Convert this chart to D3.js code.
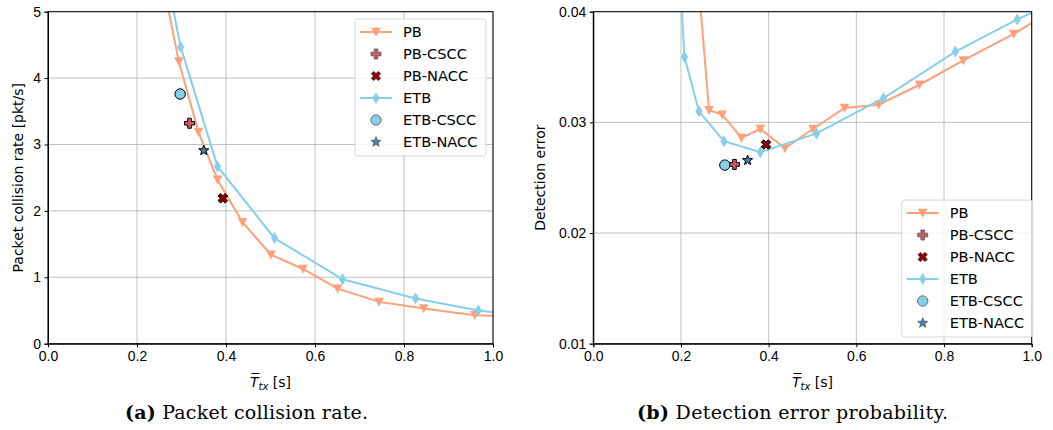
<!DOCTYPE html>
<html>
<head>
<meta charset="utf-8">
<script src="https://cdn.jsdelivr.net/npm/d3@7"></script>
<style>
  body { margin: 0; background: #fff; }
  svg { display: block; font-family: 'DejaVu Sans', sans-serif; }
  .tick text { font-size: 14px; fill: #000; }
  .grid line { stroke: #b0b0b0; stroke-width: 0.8; }
</style>
</head>
<body>
<svg id="chart" width="1053" height="430"></svg>
<script>
// x values shared by both panels
const pbX = [0.235, 0.264, 0.294, 0.338, 0.381, 0.437, 0.501, 0.573, 0.651, 0.744, 0.844, 0.959, 1.08]
const etbX = [0.19, 0.208, 0.241, 0.298, 0.381, 0.509, 0.662, 0.826, 0.967, 1.1]

// (a) packet collision rate [pkt/s]
const pbRate = [7.0, 5.25, 4.25, 3.19, 2.47, 1.83, 1.34, 1.125, 0.83, 0.63, 0.53, 0.43, 0.40]
const etbRate = [9.5, 8.0, 6.4, 4.47, 2.67, 1.59, 0.97, 0.68, 0.50, 0.39]
const rateSingles = [
  { name: 'PB-CSCC', x: 0.318, y: 3.32 },
  { name: 'PB-NACC', x: 0.393, y: 2.19 },
  { name: 'ETB-CSCC', x: 0.297, y: 3.76 },
  { name: 'ETB-NACC', x: 0.350, y: 2.91 }
]

// (b) detection error
const pbErr = [0.045, 0.0311, 0.0307, 0.0286, 0.0294, 0.02765, 0.0294, 0.0313, 0.0316, 0.0334, 0.0356, 0.0380, 0.0409]
const etbErr = [0.048, 0.0359, 0.0310, 0.0283, 0.0273, 0.0290, 0.0322, 0.0364, 0.0393, 0.0417]
const errSingles = [
  { name: 'PB-CSCC', x: 0.322, y: 0.0262 },
  { name: 'PB-NACC', x: 0.394, y: 0.0280 },
  { name: 'ETB-CSCC', x: 0.300, y: 0.02614 },
  { name: 'ETB-NACC', x: 0.352, y: 0.02657 }
]

const xTicks = [0, 0.2, 0.4, 0.6, 0.8, 1.0]
const rateTicks = [0, 1, 2, 3, 4, 5]
const errTicks = [0.01, 0.02, 0.03, 0.04]
const legendNames = ['PB', 'PB-CSCC', 'PB-NACC', 'ETB', 'ETB-CSCC', 'ETB-NACC']

const style = {
  'PB': { color: '#fea07a', marker: 'tri' },
  'ETB': { color: '#87ceeb', marker: 'thinDiamond' },
  'PB-CSCC': { color: '#cd5c5c', marker: 'plus' },
  'PB-NACC': { color: '#8b0000', marker: 'cross' },
  'ETB-CSCC': { color: '#87ceeb', marker: 'circle' },
  'ETB-NACC': { color: '#4682b4', marker: 'star' }
}

function markerPath (kind) {
  const p = d3.path()
  if (kind === 'tri') {
    p.moveTo(-4.8, -4.2); p.lineTo(4.8, -4.2); p.lineTo(0, 4.8); p.closePath()
  } else if (kind === 'thinDiamond') {
    p.moveTo(0, -6); p.lineTo(3.6, 0); p.lineTo(0, 6); p.lineTo(-3.6, 0); p.closePath()
  } else if (kind === 'plus' || kind === 'cross') {
    const a = 5, b = 1.8
    const pts = [[-b, -a], [b, -a], [b, -b], [a, -b], [a, b], [b, b], [b, a], [-b, a], [-b, b], [-a, b], [-a, -b], [-b, -b]]
    const r = kind === 'cross' ? Math.PI / 4 : 0
    pts.forEach(([x, y], i) => {
      const px = x * Math.cos(r) - y * Math.sin(r)
      const py = x * Math.sin(r) + y * Math.cos(r)
      if (i === 0) p.moveTo(px, py); else p.lineTo(px, py)
    })
    p.closePath()
  } else if (kind === 'circle') {
    p.arc(0, 0, 5.2, 0, 2 * Math.PI)
  } else if (kind === 'star') {
    for (let i = 0; i < 10; i++) {
      const r = i % 2 ? 2.2 : 5.3
      const ang = -Math.PI / 2 + i * Math.PI / 5
      if (i === 0) p.moveTo(r * Math.cos(ang), r * Math.sin(ang))
      else p.lineTo(r * Math.cos(ang), r * Math.sin(ang))
    }
    p.closePath()
  }
  return p.toString()
}

const svg = d3.select('#chart')

function drawPanel (cfg) {
  const x = d3.scaleLinear().domain([0, 1]).range(cfg.xRange)
  const y = d3.scaleLinear().domain(cfg.yDomain).range([343.7, 11.7])
  const g = svg.append('g')

  g.append('clipPath').attr('id', cfg.id)
    .append('rect')
    .attr('x', cfg.xRange[0]).attr('y', 11.7)
    .attr('width', cfg.xRange[1] - cfg.xRange[0]).attr('height', 332)

  // grid
  g.append('g').attr('class', 'grid')
    .selectAll('line.v').data(xTicks).enter().append('line')
    .attr('x1', d => x(d)).attr('x2', d => x(d)).attr('y1', 11.7).attr('y2', 343.7)
  g.append('g').attr('class', 'grid')
    .selectAll('line.h').data(cfg.yTicks).enter().append('line')
    .attr('y1', d => y(d)).attr('y2', d => y(d)).attr('x1', cfg.xRange[0]).attr('x2', cfg.xRange[1])

  const plot = g.append('g').attr('clip-path', `url(#${cfg.id})`)
  const line = d3.line().x(d => x(d[0])).y(d => y(d[1]))

  cfg.series.forEach(s => {
    const pts = s.xs.map((v, i) => [v, s.ys[i]])
    const st = style[s.name]
    plot.append('path')
      .attr('d', line(pts))
      .attr('fill', 'none')
      .attr('stroke', st.color)
      .attr('stroke-width', 2)
    plot.selectAll(null).data(pts).enter().append('path')
      .attr('d', markerPath(st.marker))
      .attr('transform', d => `translate(${x(d[0])},${y(d[1])})`)
      .attr('fill', st.color)
  })

  plot.selectAll(null).data(cfg.singles).enter().append('path')
    .attr('d', d => markerPath(style[d.name].marker))
    .attr('transform', d => `translate(${x(d.x)},${y(d.y)})`)
    .attr('fill', d => style[d.name].color)
    .attr('stroke', '#000')
    .attr('stroke-width', 1)

  // axes
  const xAxis = d3.axisBottom(x).tickValues(xTicks).tickFormat(d3.format('.1f')).tickSizeOuter(0).tickSize(3.5).tickPadding(3.5)
  const yAxis = d3.axisLeft(y).tickValues(cfg.yTicks).tickFormat(cfg.yFormat).tickSizeOuter(0).tickSize(3.5).tickPadding(3.5)
  g.append('g').attr('transform', 'translate(0,343.7)').call(xAxis)
  g.append('g').attr('transform', `translate(${cfg.xRange[0]},0)`).call(yAxis)
  g.selectAll('.domain').attr('stroke', '#000')
  g.selectAll('.tick line').attr('stroke', '#000')
  g.append('rect')
    .attr('x', cfg.xRange[0]).attr('y', 11.7)
    .attr('width', cfg.xRange[1] - cfg.xRange[0]).attr('height', 332)
    .attr('fill', 'none').attr('stroke', '#000').attr('stroke-width', 1)

  // axis labels
  const cx = (cfg.xRange[0] + cfg.xRange[1]) / 2
  const xl = g.append('text').attr('y', 387).attr('font-size', 14)
  xl.append('tspan').attr('class', 'tsym').attr('font-style', 'italic').text('T')
  xl.append('tspan').attr('font-style', 'italic').attr('font-size', 10).attr('dy', 3).text('tx')
  xl.append('tspan').attr('dy', -3).text(' [s]')
  const w = xl.node().getComputedTextLength()
  xl.attr('x', cx - w / 2)
  const tb = xl.select('.tsym').node().getExtentOfChar(0)
  g.append('line')
    .attr('x1', tb.x + 1.5).attr('x2', tb.x + tb.width + 1)
    .attr('y1', 373.5).attr('y2', 373.5)
    .attr('stroke', '#000').attr('stroke-width', 1)

  g.append('text')
    .attr('transform', `translate(${cfg.yLabelX},177.7) rotate(-90)`)
    .attr('text-anchor', 'middle')
    .attr('font-size', 14)
    .text(cfg.yLabel)

  // legend
  const lg = g.append('g').attr('transform', `translate(${cfg.legend[0]},${cfg.legend[1]})`)
  lg.append('rect')
    .attr('width', 131).attr('height', 137).attr('rx', 3)
    .attr('fill', '#fff').attr('fill-opacity', 0.8)
    .attr('stroke', '#d6d6d6')
  legendNames.forEach((name, i) => {
    const st = style[name]
    const row = lg.append('g').attr('transform', `translate(0,${13 + 22 * i})`)
    if (name === 'PB' || name === 'ETB') {
      row.append('line').attr('x1', 5).attr('x2', 37)
        .attr('stroke', st.color).attr('stroke-width', 2)
      row.append('path').attr('d', markerPath(st.marker))
        .attr('transform', 'translate(21,0)').attr('fill', st.color)
    } else {
      row.append('path').attr('d', markerPath(st.marker))
        .attr('transform', 'translate(21,0)').attr('fill', st.color)
        .attr('stroke', '#555').attr('stroke-width', 0.8)
    }
    row.append('text').attr('x', 48).attr('dy', '0.35em')
      .attr('font-size', 14.6).text(name)
  })

  // caption
  const cap = svg.append('text')
    .attr('x', cfg.capX).attr('y', 419)
    .attr('text-anchor', 'middle')
    .attr('font-family', "'DejaVu Serif', serif")
    .attr('font-size', 19)
    .attr('textLength', cfg.capWidth)
    .attr('lengthAdjust', 'spacing')
  cap.append('tspan').attr('font-weight', 'bold').text(cfg.capTag)
  cap.append('tspan').text(' ' + cfg.capText)
}

drawPanel({
  id: 'clipA',
  xRange: [48, 493],
  yDomain: [0, 5],
  yTicks: rateTicks,
  yFormat: d3.format('d'),
  yLabel: 'Packet collision rate [pkt/s]',
  yLabelX: 23,
  series: [
    { name: 'PB', xs: pbX, ys: pbRate },
    { name: 'ETB', xs: etbX, ys: etbRate }
  ],
  singles: rateSingles,
  legend: [355, 19],
  capX: 246.5,
  capWidth: 243,
  capTag: '(a)',
  capText: 'Packet collision rate.'
})

drawPanel({
  id: 'clipB',
  xRange: [593.3, 1031.7],
  yDomain: [0.01, 0.04],
  yTicks: errTicks,
  yFormat: d3.format('.2f'),
  yLabel: 'Detection error',
  yLabelX: 545,
  series: [
    { name: 'PB', xs: pbX, ys: pbErr },
    { name: 'ETB', xs: etbX, ys: etbErr }
  ],
  singles: errSingles,
  legend: [901.7, 200],
  capX: 792.5,
  capWidth: 311,
  capTag: '(b)',
  capText: 'Detection error probability.'
})
</script>
</body>
</html>
